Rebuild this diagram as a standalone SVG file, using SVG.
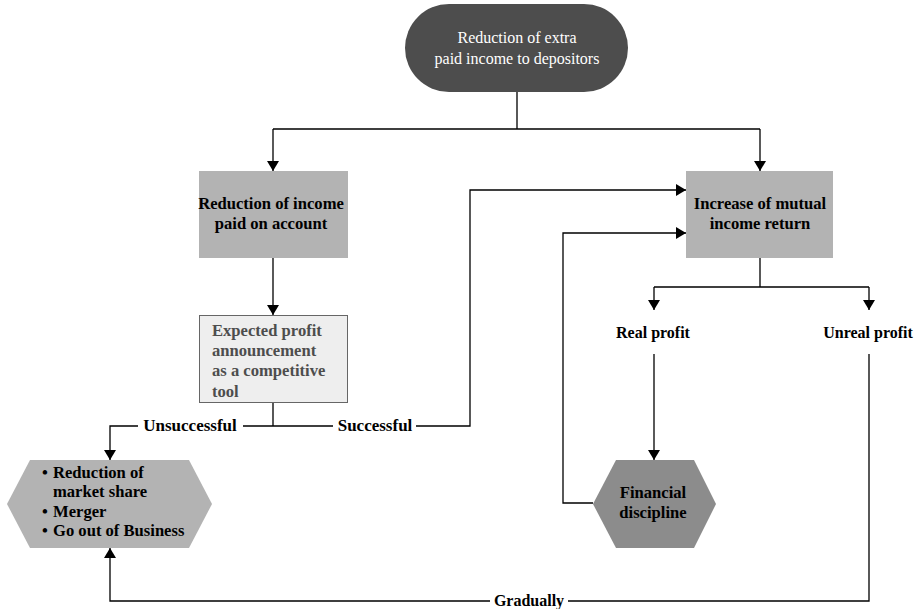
<svg xmlns="http://www.w3.org/2000/svg" width="917" height="609" viewBox="0 0 917 609">
<defs>
<marker id="arr" viewBox="0 0 10 12" refX="10" refY="6" markerWidth="10" markerHeight="12" markerUnits="userSpaceOnUse" orient="auto">
<path d="M0,0 L10,6 L0,12 Z" fill="#000"/>
</marker>
<style>
.t{font-family:'Liberation Serif','DejaVu Serif',serif;font-size:16.6px;font-weight:bold;fill:#000}
.c{text-anchor:middle}
.w{fill:#fff;font-weight:normal;font-size:16px}
.g{fill:#4d4d4d}
.s16{font-size:16px}
.s17{font-size:17px}
.ln{fill:none;stroke:#000;stroke-width:1.3}
</style>
</defs>
<rect width="917" height="609" fill="#fff"/>
<g id="connectors">
<path class="ln" d="M517,92 V129 M273,129 H760"/>
<path class="ln" d="M273,129 V171" marker-end="url(#arr)"/>
<path class="ln" d="M760,129 V171" marker-end="url(#arr)"/>
<path class="ln" d="M273,258 V315" marker-end="url(#arr)"/>
<path class="ln" d="M273,402 V426 M243,426 H333"/>
<path class="ln" d="M138,426 H110 V460" marker-end="url(#arr)"/>
<path class="ln" d="M416,426 H470 V190 H686" marker-end="url(#arr)"/>
<path class="ln" d="M593,503 H563 V233 H686" marker-end="url(#arr)"/>
<path class="ln" d="M760,258 V287 M654,287 H869"/>
<path class="ln" d="M654,287 V310" marker-end="url(#arr)"/>
<path class="ln" d="M869,287 V310" marker-end="url(#arr)"/>
<path class="ln" d="M654,354 V460" marker-end="url(#arr)"/>
<path class="ln" d="M869,354 V601 H568 M490,601 H110 V548" marker-end="url(#arr)"/>
<text class="t c s17" x="190" y="431">Unsuccessful</text>
<text class="t c s17" x="375" y="431">Successful</text>
<text class="t c s16" x="529" y="606">Gradually</text>
</g>
<g id="n-top">
<rect x="405" y="4" width="223" height="88" rx="44" ry="44" fill="#4d4d4d"/>
<text class="t c w" x="517" y="43">Reduction of extra</text>
<text class="t c w" x="517" y="64">paid income to depositors</text>
</g>
<g id="n-reduction-income">
<rect x="199" y="171" width="149" height="87" fill="#b3b3b3"/>
<text class="t c" x="271" y="209">Reduction of income</text>
<text class="t c" x="271" y="229">paid on account</text>
</g>
<g id="n-increase">
<rect x="686" y="171" width="147" height="87" fill="#b3b3b3"/>
<text class="t c" x="760" y="209">Increase of mutual</text>
<text class="t c" x="760" y="229">income return</text>
</g>
<g id="n-expected">
<rect x="199.5" y="315.5" width="148" height="87" fill="#eeeeee" stroke="#666" stroke-width="1"/>
<text class="t g" x="212" y="336">Expected profit</text>
<text class="t g" x="212" y="356">announcement</text>
<text class="t g" x="212" y="376">as a competitive</text>
<text class="t g" x="212" y="397">tool</text>
</g>
<g id="n-real">
<text class="t c s16" x="653" y="338">Real profit</text>
</g>
<g id="n-unreal">
<text class="t c s16" x="868" y="338">Unreal profit</text>
</g>
<g id="n-outcomes">
<polygon points="7,504 30,460 189,460 212,504 189,548 30,548" fill="#b3b3b3"/>
<text class="t" x="42" y="478">•</text>
<text class="t" x="53" y="478">Reduction of</text>
<text class="t" x="53" y="497">market share</text>
<text class="t" x="42" y="517">•</text>
<text class="t" x="53" y="517">Merger</text>
<text class="t" x="42" y="536">•</text>
<text class="t" x="53" y="536">Go out of Business</text>
</g>
<g id="n-discipline">
<polygon points="593,504 616,460 694,460 716,504 694,548 616,548" fill="#8c8c8c"/>
<text class="t c" x="653" y="498">Financial</text>
<text class="t c" x="653" y="518">discipline</text>
</g>
</svg>
